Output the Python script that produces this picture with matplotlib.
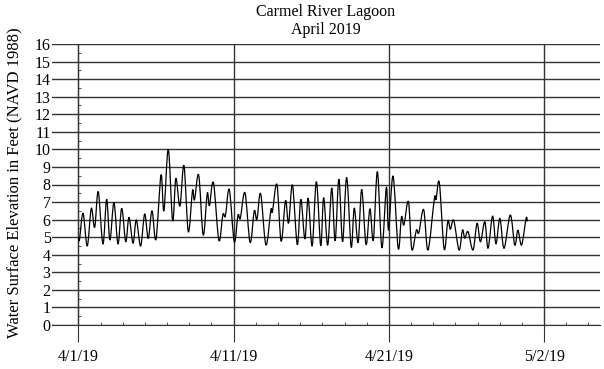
import numpy as np
import matplotlib
matplotlib.use("Agg")
import matplotlib.pyplot as plt
from matplotlib.path import Path
from matplotlib.patches import PathPatch
from matplotlib.ticker import FixedLocator

plt.rcParams['font.family'] = ['Liberation Serif', 'DejaVu Serif']

TITLE = "Carmel River Lagoon\nApril 2019"
Y_LABEL = "Water Surface Elevation in Feet (NAVD 1988)"

# Days since 4/1/19 00:00, read at the turning points of the water level trace
days = [0.01, 0.07, 0.30, 0.57, 0.83, 1.05, 1.28, 1.58, 1.82, 2.03,
        2.29, 2.55, 2.79, 3.05, 3.26, 3.52, 3.73, 4.01, 4.27, 4.50,
        4.74, 5.00, 5.32, 5.51, 5.79, 6.07, 6.28, 6.54, 6.80, 7.08,
        7.35, 7.48, 7.75, 8.04, 8.30, 8.44, 8.70, 9.05, 9.31, 9.47,
        9.72, 10.04, 10.28, 10.43, 10.73, 11.06, 11.33, 11.50, 11.74, 12.08,
        12.40, 12.50, 12.79, 13.06, 13.34, 13.54, 13.79, 14.10, 14.33, 14.59,
        14.80, 15.06, 15.33, 15.61, 15.80, 16.06, 16.32, 16.54, 16.78, 17.02,
        17.28, 17.57, 17.77, 18.02, 18.25, 18.53, 18.78, 19.00, 19.26, 19.55,
        19.84, 19.98, 20.27, 20.60, 20.81, 20.97, 21.26, 21.48, 21.77, 21.93,
        22.24, 22.52, 22.93, 23.04, 23.25, 23.56, 23.80, 23.96, 24.18, 24.52,
        24.74, 24.89, 25.10, 25.42, 25.68, 25.90, 26.18, 26.39, 26.68, 26.90,
        27.15, 27.42, 27.82, 28.11, 28.31, 28.55, 28.84, 28.92]
# Water surface elevation (ft, NAVD 1988)
elev = [5.00, 4.85, 6.36, 4.50, 6.64, 5.56, 7.59, 4.61, 7.15, 4.84,
        6.96, 4.61, 6.64, 4.74, 6.13, 4.65, 5.98, 4.50, 6.32, 4.93,
        6.50, 4.88, 8.54, 6.50, 10.00, 5.94, 8.35, 6.77, 9.08, 5.31,
        7.65, 7.12, 8.54, 5.12, 7.50, 6.80, 8.10, 4.82, 6.30, 6.20,
        7.72, 4.74, 6.26, 6.07, 7.53, 4.70, 6.50, 6.00, 7.48, 4.56,
        6.55, 6.45, 8.00, 4.77, 7.08, 5.80, 7.97, 4.58, 7.15, 4.90,
        7.22, 4.50, 8.16, 4.52, 7.25, 4.55, 7.80, 4.80, 8.30, 4.74,
        8.40, 4.44, 6.66, 4.70, 7.72, 4.58, 6.62, 4.84, 8.73, 4.40,
        7.85, 5.40, 8.48, 4.36, 6.15, 5.70, 7.02, 4.30, 5.40, 5.25,
        6.57, 4.27, 7.20, 7.15, 8.10, 4.33, 5.92, 5.45, 5.95, 4.27,
        5.41, 4.94, 5.31, 4.27, 5.79, 4.74, 5.88, 4.37, 6.20, 4.62,
        6.07, 4.37, 6.26, 4.55, 5.40, 4.56, 6.07, 5.90]

date_ticks = [0, 10, 20, 30]
date_labels = ["4/1/19", "4/11/19", "4/21/19", "5/2/19"]
y_ticks = list(range(0, 17))


def smooth_path(x, y):
    # smoothed line (Catmull-Rom style bezier) like the spreadsheet chart
    pts = np.column_stack([x, y])
    verts = [pts[0]]
    codes = [Path.MOVETO]
    n = len(pts)
    for i in range(n - 1):
        p0 = pts[max(i - 1, 0)]
        p1 = pts[i]
        p2 = pts[i + 1]
        p3 = pts[min(i + 2, n - 1)]
        verts += [p1 + (p2 - p0) / 6, p2 - (p3 - p1) / 6, p2]
        codes += [Path.CURVE4] * 3
    return Path(verts, codes)


fig = plt.figure(figsize=(6.04, 3.69), dpi=100)
ax = fig.add_axes([52 / 604, 1 - 325 / 369, 548 / 604, 281 / 369])
ax.set_xlim(-1.7, 33.6)
ax.set_ylim(0, 16)

line_col = '#333333'
ax.grid(axis='y', which='major', color=line_col, lw=1.0)
ax.grid(axis='x', which='major', color=line_col, lw=1.0)
ax.set_axisbelow(True)

ax.add_patch(PathPatch(smooth_path(days, elev), fill=False, lw=0.9,
                       edgecolor='black', zorder=3))

for s in ['top', 'right']:
    ax.spines[s].set_visible(False)
ax.spines['left'].set_position(('data', 0))
ax.spines['left'].set_color(line_col)
ax.spines['bottom'].set_color(line_col)

ax.set_yticks(y_ticks)
ax.yaxis.set_minor_locator(FixedLocator([v + 0.5 for v in y_ticks[:-1]]))
ax.tick_params(axis='y', which='major', length=0, pad=20, labelsize=11.5)
ax.tick_params(axis='y', which='minor', direction='in', length=2.5, color=line_col)

ax.set_xticks(date_ticks, date_labels)
ax.xaxis.set_minor_locator(FixedLocator([k * 10 / 7 for k in range(1, 24) if k % 7]))
ax.tick_params(axis='x', which='major', direction='out', length=12.5, pad=5,
               labelsize=11.5, color=line_col)
ax.tick_params(axis='x', which='minor', direction='in', length=2.5, color=line_col)

ax.set_title(TITLE, fontsize=11.5, pad=7, linespacing=1.2)
fig.text(14 / 604, 1 - 183 / 369, Y_LABEL, rotation=90, ha='center', va='center',
         fontsize=12)

fig.savefig("out.png", dpi=100)
